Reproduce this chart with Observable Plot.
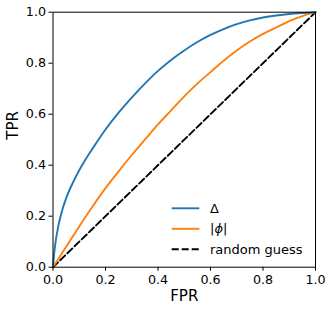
<!DOCTYPE html>
<html>
<head>
<meta charset="utf-8">
<script src="https://cdn.jsdelivr.net/npm/d3@7"></script>
<script src="https://cdn.jsdelivr.net/npm/@observablehq/plot@0.6"></script>
<style>
  html, body { margin: 0; padding: 0; background: #fff; }
  #chart { width: 333px; height: 312px; }
</style>
</head>
<body>
<div id="chart"></div>
<script>
// ---- data ----
const deltaFPR = [0,0.005,0.01,0.02,0.03,0.05,0.075,0.1,0.125,0.15,0.2,0.25,0.3,0.35,0.4,0.45,0.5,0.55,0.6,0.65,0.7,0.75,0.8,0.85,0.9,0.95,1];
const deltaTPR = [0,0.06,0.1,0.16,0.205,0.27,0.33,0.38,0.424,0.464,0.54,0.606,0.665,0.72,0.77,0.813,0.85,0.883,0.911,0.934,0.953,0.968,0.979,0.987,0.993,0.997,1];
const phiFPR = [0,0.05,0.1,0.15,0.2,0.25,0.3,0.35,0.4,0.45,0.5,0.55,0.6,0.65,0.7,0.75,0.8,0.85,0.9,0.95,1];
const phiTPR = [0,0.08,0.16,0.237,0.31,0.376,0.44,0.5,0.56,0.615,0.67,0.72,0.765,0.81,0.85,0.885,0.915,0.94,0.965,0.985,1];
const guessFPR = [0, 1];
const guessTPR = [0, 1];
const ticks = [0, 0.2, 0.4, 0.6, 0.8, 1.0];
const seriesNames = ["Δ", "|ϕ|", "random guess"];
const seriesColors = ["#1f77b4", "#ff7f0e", "black"];
const xLabel = "FPR";
const yLabel = "TPR";

const delta = deltaFPR.map((x, i) => ({x, y: deltaTPR[i]}));
const phi = phiFPR.map((x, i) => ({x, y: phiTPR[i]}));
const guess = guessFPR.map((x, i) => ({x, y: guessTPR[i]}));

const font = "DejaVu Sans, sans-serif";

const plot = Plot.plot({
  width: 333,
  height: 312,
  marginLeft: 52.5,
  marginRight: 18,
  marginTop: 11.7,
  marginBottom: 45.3,
  style: {fontFamily: font, fontSize: "12.7px", color: "black", background: "white"},
  x: {domain: [0, 1], ticks, tickFormat: d3.format(".1f")},
  y: {domain: [0, 1], ticks, tickFormat: d3.format(".1f")},
  marks: [
    Plot.line(guess, {x: "x", y: "y", stroke: seriesColors[2], strokeWidth: 1.9, strokeDasharray: "7,3"}),
    Plot.line(phi, {x: "x", y: "y", stroke: seriesColors[1], strokeWidth: 1.9, curve: "monotone-x"}),
    Plot.line(delta, {x: "x", y: "y", stroke: seriesColors[0], strokeWidth: 1.9, curve: "monotone-x"}),
    Plot.frame({stroke: "black", strokeWidth: 1}),
    Plot.axisX({ticks, tickFormat: d3.format(".1f"), tickSize: 4, tickPadding: 3.5, label: null, fontSize: 12.7}),
    Plot.axisY({ticks, tickFormat: d3.format(".1f"), tickSize: 4, tickPadding: 3, label: null, fontSize: 12.7}),
    Plot.text([xLabel], {text: d => d, frameAnchor: "bottom", dy: 33.5, fontSize: 15, fill: "black"}),
    Plot.text([yLabel], {text: d => d, frameAnchor: "left", dx: -39.5, rotate: -90, fontSize: 15, fill: "black"})
  ]
});

// legend (inside the frame, lower right)
const sx = plot.scale("x"), sy = plot.scale("y");
const right = sx.range[1], bottom = sy.range[0];
const svg = d3.select(plot);
const g = svg.append("g").attr("font-family", font).attr("font-size", 13).attr("text-anchor", "start");
const rowGap = 20.5;
seriesNames.forEach((name, i) => {
  const row = seriesNames.length - 1 - i;
  const yy = bottom - 17.4 - row * rowGap;
  g.append("line")
    .attr("x1", right - 143.3).attr("x2", right - 115.7)
    .attr("y1", yy).attr("y2", yy)
    .attr("stroke", seriesColors[i]).attr("stroke-width", 1.9)
    .attr("stroke-dasharray", i === 2 ? "7,3" : null);
  const t = g.append("text")
    .attr("x", right - 105).attr("y", yy).attr("dy", "0.35em")
    .attr("text-anchor", "start")
    .attr("fill", "black");
  if (name.includes("ϕ")) {
    const parts = name.split("ϕ");
    t.append("tspan").text(parts[0]);
    t.append("tspan").attr("font-style", "italic").text("ϕ");
    t.append("tspan").text(parts[1]);
  } else {
    t.text(name);
  }
});

document.getElementById("chart").appendChild(plot);
</script>
</body>
</html>
